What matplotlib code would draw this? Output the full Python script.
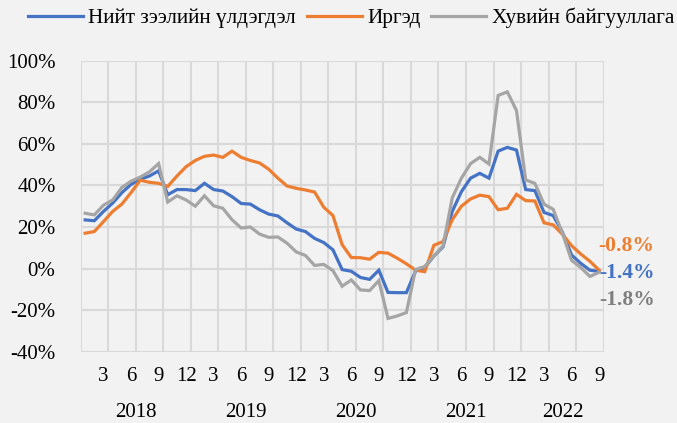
import matplotlib
matplotlib.use("Agg")
import matplotlib.pyplot as plt
import matplotlib.transforms as mtransforms
import numpy as np

plt.rcParams['font.family'] = ['Liberation Serif', 'DejaVu Serif']

# monthly growth, Jan 2018 .. Sep 2022 (%)
total = [23.4, 23, 27.5, 31.5, 36.5, 40.5, 43, 44.5, 47, 35.5, 38, 38,
         37.5, 41, 38, 37.3, 34.6, 31.3, 31, 28.3, 26.2, 25.3, 22, 19,
         17.8, 14.5, 12.5, 9, -0.5, -1.3, -4.3, -5.2, -0.8, -11.5, -11.6, -11.6,
         -1.2, 0.5, 6, 10.5, 27.5, 37, 43.5, 45.8, 43.5, 56.5, 58.3, 57,
         38, 37.5, 27, 25.5, 17.5, 6.5, 2.5, -0.8, -1.4]
households = [17, 17.8, 22.6, 27.5, 31, 36.5, 42.5, 41.5, 41, 39.5, 44.5, 49,
              52, 54, 54.6, 53.5, 56.5, 53.5, 52, 50.8, 47.8, 43.5, 39.7, 38.6,
              37.8, 36.8, 29.5, 25.5, 11.5, 5.3, 5.2, 4.5, 7.8, 7.4, 5, 2.3,
              -0.8, -1.5, 11.2, 13, 23.5, 30, 33.5, 35.3, 34.6, 28.3, 29, 35.7,
              32.7, 32.5, 22, 21, 16.5, 11, 7, 3.5, -0.8]
business = [26.6, 25.8, 30.5, 33, 39, 42, 44, 46.5, 50.5, 32, 35, 33,
            30, 35, 30.2, 29, 23.5, 19.5, 20, 16.6, 15, 15.2, 12.2, 8,
            6.3, 1.5, 2, -1, -8.5, -5.5, -10.3, -10.6, -5.8, -24, -22.8, -21.2,
            -0.5, 1, 6, 11, 34, 43.5, 50.5, 53.5, 50.3, 83.3, 85, 76,
            42.6, 41, 31, 28.5, 17, 4, 0.5, -3.8, -1.8]

names = ["Нийт зээлийн үлдэгдэл", "Иргэд", "Хувийн байгууллага"]
colors = ["#4472C4", "#ED7D31", "#A5A5A5"]
label_colors = ["#4472C4", "#ED7D31", "#7F7F7F"]
end_labels = ["-1.4%", "-0.8%", "-1.8%"]
label_offsets = [(0, -2), (-1, 24), (0, -28)]

years = ["2018", "2019", "2020", "2021", "2022"]
year_centers = [5.5, 17.5, 29.5, 41.5, 52]
month_labels = ["3", "6", "9", "12"] * 4 + ["3", "6", "9"]

x = np.arange(len(total))
bg = "#F2F2F2"

fig = plt.figure(figsize=(6.77, 4.23), dpi=100, facecolor=bg)
ax = fig.add_axes([0.119, 0.1686, 0.7727, 0.6879], facecolor=bg)

lines = []
for data, c, n in zip([total, households, business], colors, names):
    ln, = ax.plot(x, data, color=c, lw=2.3, label=n, solid_joinstyle='miter')
    lines.append(ln)

for data, c, txt, off in zip([total, households, business], label_colors,
                             end_labels, label_offsets):
    ax.annotate(txt, xy=(x[-1], data[-1]), xytext=off,
                textcoords='offset pixels', ha='left', va='center',
                color=c, fontsize=15.5, fontweight='bold')

ax.set_xlim(-0.5, len(x) - 0.5)
ax.set_ylim(-40, 100)
ax.set_yticks(np.arange(-40, 101, 20))
ax.set_yticklabels([f"{v}%" for v in range(-40, 101, 20)])

ax.set_xticks(np.arange(2, len(x), 3))
ax.set_xticklabels(month_labels)
ax.set_xticks(np.arange(-0.5, len(x), 3), minor=True)

ax.grid(True, which='minor', axis='x', color="#D9D9D9", lw=1.5)
ax.grid(True, which='major', axis='y', color="#D9D9D9", lw=1.5)
ax.set_axisbelow(True)
for s in ax.spines.values():
    s.set_visible(False)

ax.tick_params(axis='both', which='both', length=0, labelsize=15, colors='black')
ax.tick_params(axis='x', pad=11)
ax.tick_params(axis='y', pad=18)

trans = mtransforms.blended_transform_factory(ax.transData, ax.transAxes)
for yr, xc in zip(years, year_centers):
    ax.text(xc, -0.21, yr, transform=trans, ha='center', va='center', fontsize=15)

fig.legend(handles=lines, loc='center', bbox_to_anchor=(0.5185, 0.957), ncol=3,
           frameon=False, fontsize=15.3, handlelength=2.6, handletextpad=0.25,
           columnspacing=0.5, borderaxespad=0)

fig.savefig("out.png", dpi=100, facecolor=bg)
